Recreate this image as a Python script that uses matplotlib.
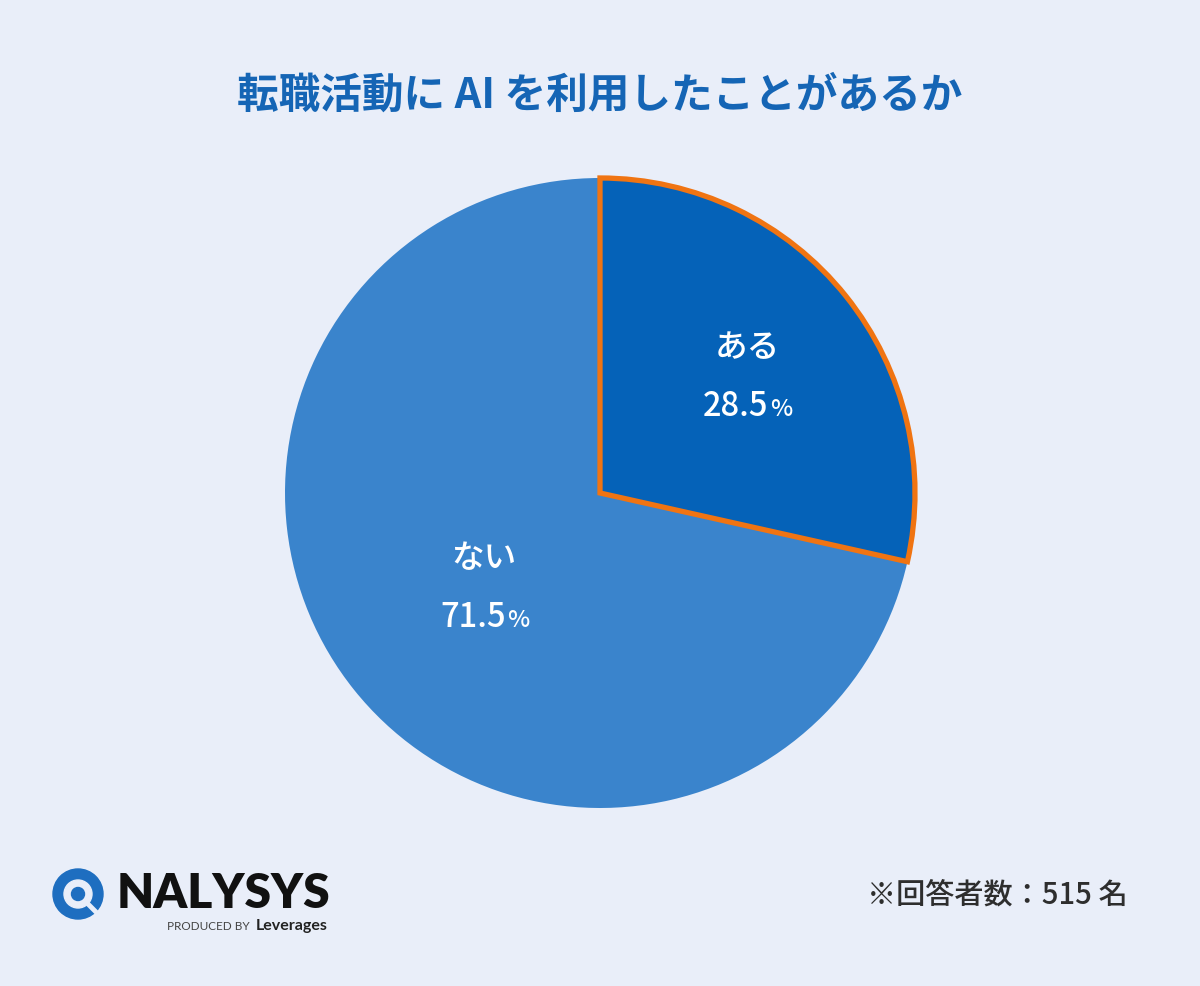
import matplotlib
matplotlib.use("Agg")
import matplotlib.pyplot as plt
from matplotlib.patches import Circle
import numpy as np

title = "転職活動に AI を利用したことがあるか"
labels = ["ある", "ない"]
values = [28.5, 71.5]
value_texts = ["28.5", "71.5"]
note = "※回答者数：515 名"

BG = "#E9EEF9"
COLORS = ["#0562B8", "#3A84CC"]
ORANGE = "#F07412"
TITLE_C = "#1565B5"

plt.rcParams['font.family'] = ['Noto Sans CJK JP', 'DejaVu Sans']

W, H = 1200, 986
fig = plt.figure(figsize=(W / 100, H / 100), dpi=100, facecolor=BG)

# pie axes: centre (600, 493) px, radius 315 px
cx, cy, R = 600, 493, 315
ax = fig.add_axes([(cx - R) / W, (H - cy - R) / H, 2 * R / W, 2 * R / H])
ax.set_facecolor("none")
wedges, _ = ax.pie(values, colors=COLORS, startangle=90, counterclock=False,
                   radius=1.0, wedgeprops=dict(linewidth=0))
wedges[0].set_edgecolor(ORANGE)
wedges[0].set_linewidth(3.8)
wedges[0].set_joinstyle("miter")
wedges[0].set_zorder(5)
ax.set_xlim(-1, 1)
ax.set_ylim(-1, 1)
ax.set_aspect("equal")
ax.axis("off")

label_dist = [0.6, 0.47]
fig.canvas.draw()
renderer = fig.canvas.get_renderer()
for w, lab, vt, d in zip(wedges, labels, value_texts, label_dist):
    ang = np.deg2rad((w.theta1 + w.theta2) / 2)
    x, y = d * np.cos(ang), d * np.sin(ang)
    px, py = ax.transData.transform((x, y))
    fig.text(px / W, (py + 27) / H, lab, ha="center", va="center", color="white",
             fontsize=23.5, fontweight="medium")
    t_num = fig.text(0, 0, vt, ha="left", va="baseline", color="white",
                     fontsize=23.5, fontweight="medium")
    t_pct = fig.text(0, 0, "%", ha="left", va="baseline", color="white",
                     fontsize=17, fontweight="medium")
    bn = t_num.get_window_extent(renderer)
    bp = t_pct.get_window_extent(renderer)
    total = bn.width + bp.width + 1
    left = px - total / 2
    base = py - 29 - 12
    t_num.set_position((left / W, base / H))
    t_pct.set_position(((left + bn.width + 1) / W, base / H))

# title
fig.text(0.5, 1 - 96 / H, title, ha="center", va="center", color=TITLE_C,
         fontsize=30, fontweight="bold")

# footnote
fig.text(1128 / W, 1 - 895 / H, note, ha="right", va="center", color="#2E2E2E",
         fontsize=21, fontweight="medium")

# logo
lax = fig.add_axes([0, 0, 1, 1], facecolor="none")
lax.set_xlim(0, W)
lax.set_ylim(H, 0)
lax.axis("off")
ix, iy = 78, 894
lax.add_patch(Circle((ix, iy), 25, color="#1E6EC0"))
lax.add_patch(Circle((ix, iy), 14, color=BG))
lax.plot([ix + 6, ix + 20], [iy + 6, iy + 20], color=BG, lw=3.5, solid_capstyle="butt")
lax.add_patch(Circle((ix, iy), 6.5, color="#1E6EC0"))
fig.text(117 / W, 1 - 894 / H, "NALYSYS", ha="left", va="center", color="#111111",
         fontsize=34.5, fontweight="heavy", family=["Lato", "DejaVu Sans"])
fig.text(250 / W, 1 - 927 / H, "PRODUCED BY", ha="right", va="center", color="#444444",
         fontsize=8.5, family=["Lato", "DejaVu Sans"])
fig.text(256 / W, 1 - 926 / H, "Leverages", ha="left", va="center", color="#222222",
         fontsize=11.5, fontweight="bold", family=["Lato", "DejaVu Sans"])

fig.savefig("out.png", dpi=100, facecolor=BG)
